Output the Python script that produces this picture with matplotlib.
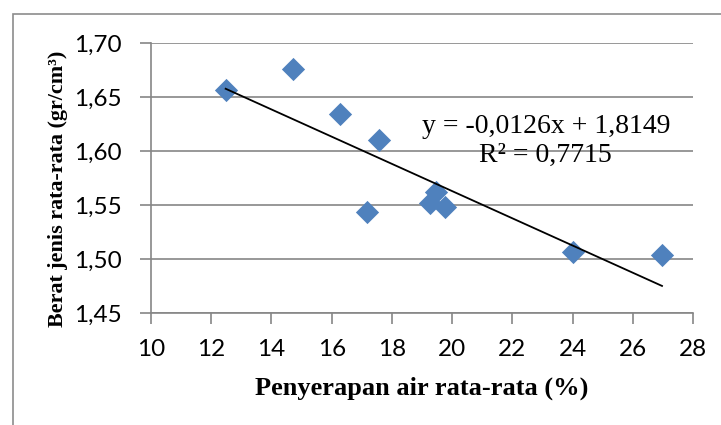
import matplotlib.pyplot as plt
import numpy as np
from matplotlib.ticker import FuncFormatter, MultipleLocator
from matplotlib.patches import Rectangle

# average water absorption (%) vs average density (gr/cm3)
penyerapan = [12.48, 14.73, 16.27, 17.57, 17.19, 19.47, 19.27, 19.77, 24.03, 26.97]
berat_jenis = [1.6565, 1.6756, 1.634, 1.610, 1.5438, 1.5623, 1.5516, 1.5484, 1.5068, 1.5037]

# linear trend
slope = -0.0126
intercept = 1.8149
r2 = 0.7715

fig = plt.figure(figsize=(7.21, 4.25), dpi=100)
ax = fig.add_axes([0.2094, 0.2635, 0.7518, 0.6353])

# chart area border (left and top edges visible)
fig.patches.append(Rectangle((13/721, -0.1), 1.2, 1 - 14/425 + 0.1, transform=fig.transFigure,
                             fill=False, edgecolor='#8c8c8c', linewidth=1.2))

ax.scatter(penyerapan, berat_jenis, marker='D', s=140, color='#4F81BD', zorder=3, linewidths=0)

xs = np.array([min(penyerapan), max(penyerapan)])
ax.plot(xs, slope * xs + intercept, color='black', linewidth=1.3, zorder=4)

ax.set_xlim(10, 28)
ax.set_ylim(1.45, 1.70)
ax.xaxis.set_major_locator(MultipleLocator(2))
ax.yaxis.set_major_locator(MultipleLocator(0.05))
ax.yaxis.set_major_formatter(FuncFormatter(lambda v, p: '{:.2f}'.format(v).replace('.', ',')))
ax.grid(axis='y', color='#868686', linewidth=1.2)
ax.set_axisbelow(True)

for s in ['top', 'right']:
    ax.spines[s].set_visible(False)
for s in ['left', 'bottom']:
    ax.spines[s].set_color('#868686')
    ax.spines[s].set_linewidth(1.2)
ax.tick_params(direction='out', length=8, width=1.2, color='#868686', labelsize=17.5)
ax.tick_params(axis='y', pad=13)
ax.tick_params(axis='x', pad=11)
for lab in ax.get_xticklabels() + ax.get_yticklabels():
    lab.set_family('Lato')

ax.set_xlabel('Penyerapan air rata-rata (%)', family='Liberation Serif', fontweight='bold',
              fontsize=19, labelpad=12)
ax.set_ylabel('Berat jenis rata-rata (gr/cm³)', family='Liberation Serif', fontweight='bold',
              fontsize=15.9)
ax.yaxis.set_label_coords(-0.153, 0.459)

eq = 'y = -{:.4f}x + {:.4f}\nR² = {:.4f}'.format(-slope, intercept, r2).replace('.', ',')
ax.text(23.11, 1.6095, eq, family='Liberation Serif', fontsize=20, ha='center', va='center',
        linespacing=1.2, zorder=5)

fig.savefig('out.png', dpi=100)
